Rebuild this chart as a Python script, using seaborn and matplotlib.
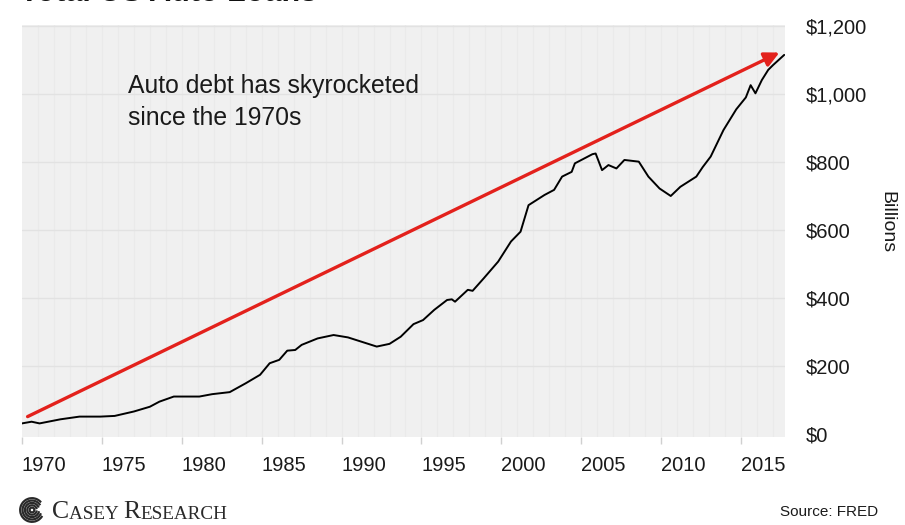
import matplotlib
matplotlib.use("Agg")
import matplotlib.pyplot as plt
from matplotlib.patches import Arc
import seaborn as sns
import pandas as pd

# ---- data ----
years = [1970.0, 1970.6, 1971.1, 1972.4, 1973.6, 1974.9, 1975.8, 1977.0, 1978.0, 1978.6,
         1979.5, 1981.1, 1981.9, 1983.0, 1984.0, 1984.9, 1985.5, 1986.1, 1986.6, 1987.1,
         1987.5, 1988.5, 1989.5, 1990.4, 1991.4, 1992.2, 1993.0, 1993.7, 1994.5, 1995.1,
         1995.8, 1996.6, 1996.9, 1997.1, 1997.9, 1998.2, 1998.9, 1999.8, 2000.6, 2001.2,
         2001.7, 2002.7, 2003.3, 2003.8, 2004.4, 2004.6, 2005.7, 2005.9, 2006.3, 2006.7,
         2007.2, 2007.7, 2008.6, 2009.2, 2009.9, 2010.6, 2011.2, 2012.2, 2012.6, 2013.1,
         2013.9, 2014.7, 2015.3, 2015.6, 2015.9, 2016.3, 2016.7, 2017.0, 2017.7]
loans = [31, 36, 31, 43, 51, 51, 53, 66, 80, 95,
         110, 110, 117, 123, 149, 174, 208, 218, 245, 247,
         262, 281, 291, 284, 269, 257, 265, 286, 323, 335,
         365, 394, 396, 389, 424, 421, 458, 507, 566, 595,
         673, 703, 718, 757, 771, 796, 823, 825, 776, 791,
         781, 806, 801, 757, 722, 700, 727, 757, 785, 816,
         894, 955, 990, 1026, 1002, 1041, 1071, 1085, 1115]

x_ticks = [1970, 1975, 1980, 1985, 1990, 1995, 2000, 2005, 2010, 2015]
y_ticks = [0, 200, 400, 600, 800, 1000, 1200]
y_tick_labels = ["$0", "$200", "$400", "$600", "$800", "$1,000", "$1,200"]

title = "Total US Auto Loans"
note = "Auto debt has skyrocketed\nsince the 1970s"
arrow_start = (1970.35, 51)
arrow_end = (2017.4, 1122)

df = pd.DataFrame({"year": years, "loans": loans})

# ---- style ----
sns.set_theme(style="white")
plt.rcParams["font.family"] = ["Liberation Sans", "DejaVu Sans"]

W, H = 905, 525
fig = plt.figure(figsize=(W / 100, H / 100), dpi=100)
fig.patch.set_facecolor("white")
ax = fig.add_axes([22 / W, (H - 437) / H, (785 - 22) / W, (437 - 25) / H])
ax.set_facecolor("#f0f0f0")

# yearly faint vertical grid and horizontal grid
for yr in range(1971, 2018):
    ax.axvline(yr, color="#eaeaea", lw=0.8, zorder=0)
for yv in y_ticks[1:]:
    ax.axhline(yv, color="#e2e2e2", lw=1.0, zorder=0.5)

sns.lineplot(data=df, x="year", y="loans", ax=ax, color="black", lw=1.4, zorder=3)

ax.annotate("", xy=arrow_end, xytext=arrow_start,
            arrowprops=dict(arrowstyle="-|>", color="#e3211c", lw=2.4,
                            mutation_scale=22, shrinkA=0, shrinkB=0),
            zorder=4)

ax.text(1976.65, 1060, note, fontsize=17.8, color="#1a1a1a", va="top", ha="left",
        linespacing=1.42)

ax.set_xlim(1970, 2017.75)
ax.set_ylim(-9, 1203)
for s in ax.spines.values():
    s.set_visible(False)

ax.set_xticks(x_ticks)
ax.set_xticklabels([str(t) for t in x_ticks])
for lab in ax.get_xticklabels():
    lab.set_ha("left")
ax.tick_params(axis="x", bottom=True, length=5, width=1, color="#d0d0d0",
               labelsize=14.5, labelcolor="#1a1a1a", pad=9, direction="out")

ax.yaxis.tick_right()
ax.set_yticks(y_ticks)
ax.set_yticklabels(y_tick_labels)
ax.tick_params(axis="y", right=False, left=False, length=0, labelsize=14.5,
               labelcolor="#1a1a1a", pad=15)
ax.set_xlabel("")
ax.set_ylabel("")

fig.text(887 / W, 1 - 222 / H, "Billions", rotation=270, fontsize=14,
         color="#1a1a1a", ha="center", va="center")

fig.text(20 / W, 1 - 1 / H, title, fontsize=22, fontweight="bold",
         color="#111111", ha="left", va="baseline")

fig.text(878 / W, 1 - 512 / H, "Source: FRED", fontsize=11, color="#1a1a1a",
         ha="right", va="center")

# Casey Research logo (text in small caps style)
serif = ["Liberation Serif", "DejaVu Serif"]
parts = [("C", 18.5), ("ASEY ", 13.8), ("R", 18.5), ("ESEARCH", 13.8)]
prev = fig.text(52 / W, 1 - 523 / H, parts[0][0], fontsize=parts[0][1],
                family=serif, color="#2a2a2a", ha="left", va="bottom")
for txt, sz in parts[1:]:
    prev = plt.annotate(txt, xy=(1, 0), xycoords=prev, fontsize=sz, family=serif,
                        color="#2a2a2a", ha="left", va="bottom",
                        annotation_clip=False)

# spiral-like icon
iax = fig.add_axes([12 / W, (H - 523) / H, 40 / W, 26 / H])
iax.set_xlim(-1.1, 1.1)
iax.set_ylim(-1.1, 1.1)
iax.set_aspect("equal")
iax.axis("off")
for r, t1, t2 in [(1.0, 40, 330), (0.8, 30, 340), (0.6, 20, 350), (0.4, 10, 355), (0.2, 0, 360)]:
    iax.add_patch(Arc((0, 0), 2 * r, 2 * r, theta1=t1, theta2=t2, color="#2a2a2a", lw=1.6))

fig.savefig("out.png", dpi=100)
